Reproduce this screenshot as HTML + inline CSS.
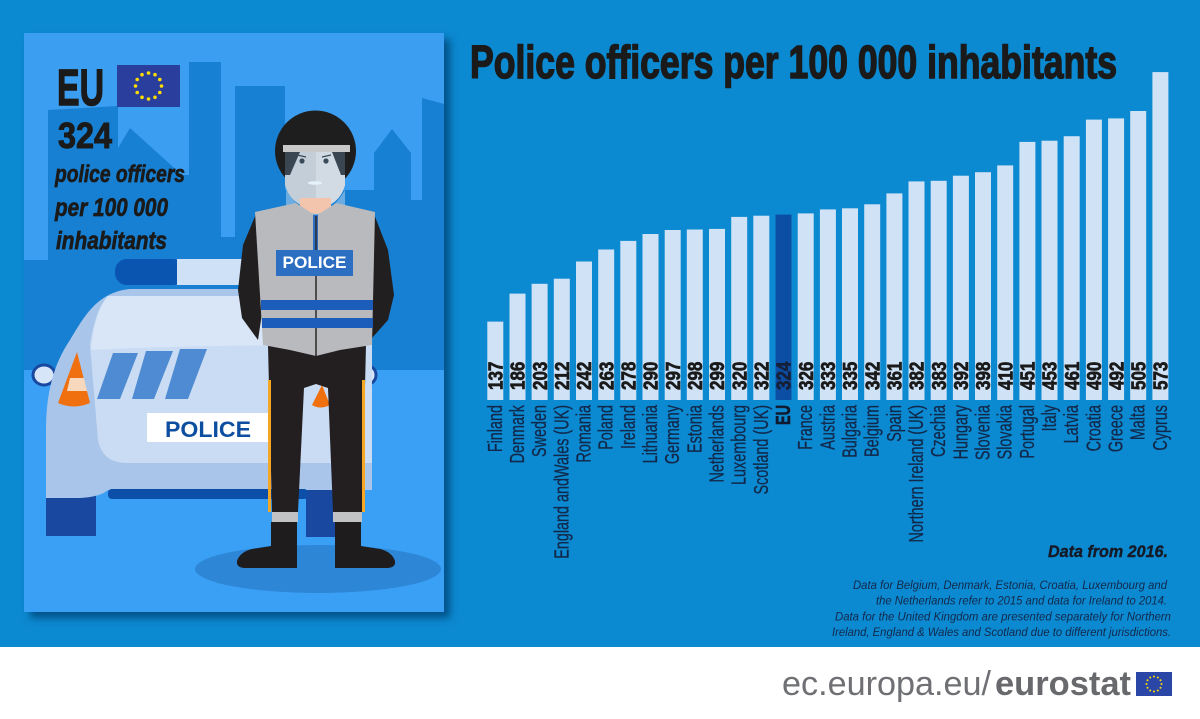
<!DOCTYPE html>
<html><head><meta charset="utf-8"><style>
html,body{margin:0;padding:0;background:#fff;}
svg{display:block;}
text{font-family:"Liberation Sans",sans-serif;}
</style></head><body>
<svg width="1200" height="719" viewBox="0 0 1200 719" xmlns="http://www.w3.org/2000/svg">
<defs>
<filter id="sh" x="-10%" y="-10%" width="125%" height="125%"><feDropShadow dx="6" dy="6" stdDeviation="4" flood-color="#03467c" flood-opacity="0.85"/></filter>
<clipPath id="pc"><rect x="24" y="33" width="420" height="579"/></clipPath>
</defs>
<rect x="0" y="0" width="1200" height="647" fill="#0b89d1"/>
<rect x="0" y="647" width="1200" height="72" fill="#ffffff"/>

<!-- LEFT PANEL -->
<rect x="24" y="33" width="420" height="579" fill="#3c9ef0" filter="url(#sh)"/>
<g clip-path="url(#pc)">
<rect x="24" y="33" width="420" height="579" fill="#3c9ef0"/>
<polygon fill="#1880d2" points="24,370 24,260 48,260 48,110 118,106 118,148 130,128 182,175 189,175 189,62 221,62 221,237 235,237 235,86 285,86 285,190 374,190 374,153 392,129 411,153 411,200 422,200 422,98 444,104 444,370"/>
<rect x="24" y="370" width="420" height="242" fill="#3aa0f6"/>

<!-- car -->
<ellipse cx="44" cy="375" rx="11" ry="10" fill="#d6e5f7" stroke="#1848a0" stroke-width="3"/>
<ellipse cx="368" cy="375" rx="8" ry="9" fill="#d6e5f7" stroke="#1848a0" stroke-width="3"/>
<rect x="46" y="462" width="50" height="74" fill="#1848a0"/>
<rect x="306" y="485" width="30" height="52" fill="#1848a0"/>
<path d="M46,498 L46,430 C46,390 55,362 70,340 C85,315 98,292 130,289 L372,289 L372,490 L300,490 L108,490 Q100,497 80,498 Z" fill="#a9c5ea"/>
<path d="M108,296 Q95,310 90,345 L98,440 Q102,462 125,463 L372,463 L372,296 Z" fill="#c9dcf3"/>
<path d="M108,296 Q95,310 91,350 Q200,344 372,346 L372,296 Z" fill="#d8e6f8"/>
<rect x="108" y="489" width="200" height="10" rx="4" fill="#0c4fa8"/>
<rect x="115" y="259" width="70" height="26" rx="12" fill="#0a55b0"/>
<rect x="177" y="259" width="75" height="26" fill="#cfe1f6"/>
<polygon points="113,353 138,353 120,399 97,399" fill="#4f8bd2"/>
<polygon points="146,351 173,351 154,399 132,399" fill="#4f8bd2"/>
<polygon points="180,349 207,349 188,399 165,399" fill="#4f8bd2"/>
<path d="M77,352 L90,403 Q74,410 58,403 Z" fill="#f07010"/>
<polygon points="70,378 84,378 87,391 67,391" fill="#f7d8bd"/>
<path d="M322,385 L330,405 Q320,410 312,405 Z" fill="#f07010"/>
<rect x="147" y="413" width="124" height="29" fill="#ffffff"/>
<text x="165" y="437" font-size="22" font-weight="bold" fill="#0d4ea0" textLength="86" lengthAdjust="spacingAndGlyphs">POLICE</text>

<!-- shadow -->
<ellipse cx="318" cy="569" rx="123" ry="24" fill="#2e86d6"/>

<!-- officer -->
<polygon points="256,214 243,245 238,290 242,318 258,340 264,300 264,230" fill="#221f20"/>
<polygon points="374,214 388,250 394,295 388,320 372,338 368,300 368,230" fill="#221f20"/>
<path d="M268,345 L272,512 L298,512 L304,388 L316,384 L328,388 L333,512 L362,512 L366,345 Z" fill="#231f20"/>
<rect x="268" y="380" width="3" height="132" fill="#f5a623"/>
<rect x="362" y="380" width="3" height="132" fill="#f5a623"/>
<rect x="272" y="512" width="26" height="10" fill="#c0c2c4"/>
<rect x="333" y="512" width="29" height="10" fill="#c0c2c4"/>
<path d="M271,522 L297,522 L297,568 L246,568 Q236,568 237,561 Q240,552 252,549 L271,546 Z" fill="#1e1c1d"/>
<path d="M335,522 L361,522 L361,546 L380,549 Q392,552 395,561 Q396,568 386,568 L335,568 Z" fill="#1e1c1d"/>
<circle cx="315.5" cy="151" r="40.5" fill="#1e1e1e"/>
<path d="M285,152 L345,152 L345,185 Q340,205 315,210 Q290,205 285,185 Z" fill="#c3ced9"/>
<path d="M316,152 L345,152 L345,185 Q340,205 316,210 Z" fill="#d2dbe4"/>
<path d="M285,152 L300,152 L290,175 L285,175 Z" fill="#3a4752"/>
<path d="M345,152 L332,152 L341,175 L345,175 Z" fill="#3a4752"/>
<rect x="283" y="145" width="67" height="7" fill="#c9c9c9"/>
<circle cx="302" cy="161" r="2.6" fill="#3a4a58"/>
<circle cx="326" cy="161" r="2.6" fill="#3a4a58"/>
<line x1="297" y1="155" x2="306" y2="157" stroke="#3a4a58" stroke-width="1.2"/>
<line x1="322" y1="157" x2="331" y2="155" stroke="#3a4a58" stroke-width="1.2"/>
<ellipse cx="315" cy="183" rx="7" ry="1.8" fill="#e6f3fb"/>
<rect x="300" y="198" width="31" height="16" fill="#f2c5ac"/>
<path d="M286,190 Q300,212 316,214 Q332,212 345,190 L345,205 Q330,218 316,218 Q300,218 286,205 Z" fill="#8fc0ea" opacity="0.7"/>
<polygon points="255,212 296,203 316,216 336,203 375,212 372,345 340,350 316,356 290,350 263,345" fill="#b8babd"/>
<rect x="313" y="215" width="5" height="36" fill="#2c6ec2"/>
<line x1="316" y1="216" x2="316" y2="356" stroke="#2a2a2a" stroke-width="1.5"/>
<rect x="276" y="250" width="77" height="26" fill="#2c6ec2"/>
<text x="314.5" y="268" font-size="17" font-weight="bold" fill="#ffffff" text-anchor="middle" textLength="64" lengthAdjust="spacingAndGlyphs">POLICE</text>
<rect x="261" y="300" width="112" height="10" fill="#1c5cba"/>
<rect x="262" y="318" width="111" height="10" fill="#1c5cba"/>

<!-- EU text -->
<g fill="#1a1a1a" stroke="#1a1a1a">
<text x="57" y="105" font-size="51" font-weight="bold" stroke-width="1.4" textLength="47" lengthAdjust="spacingAndGlyphs">EU</text>
<text x="58" y="148" font-size="36" font-weight="bold" stroke-width="1" textLength="54" lengthAdjust="spacingAndGlyphs">324</text>
<text x="55" y="182" font-size="24" font-weight="bold" font-style="italic" stroke-width="0.7" textLength="130" lengthAdjust="spacingAndGlyphs">police officers</text>
<text x="55" y="216" font-size="25" font-weight="bold" font-style="italic" stroke-width="0.7" textLength="113" lengthAdjust="spacingAndGlyphs">per 100 000</text>
<text x="56" y="249" font-size="25" font-weight="bold" font-style="italic" stroke-width="0.7" textLength="111" lengthAdjust="spacingAndGlyphs">inhabitants</text>
</g>
<rect x="117" y="65" width="63" height="42" fill="#2a3f9d"/>
<g fill="#ffdd00">
<circle cx="148.5" cy="73" r="1.8"/><circle cx="155" cy="74.7" r="1.8"/><circle cx="159.8" cy="79.5" r="1.8"/><circle cx="161.5" cy="86" r="1.8"/><circle cx="159.8" cy="92.5" r="1.8"/><circle cx="155" cy="97.3" r="1.8"/><circle cx="148.5" cy="99" r="1.8"/><circle cx="142" cy="97.3" r="1.8"/><circle cx="137.2" cy="92.5" r="1.8"/><circle cx="135.5" cy="86" r="1.8"/><circle cx="137.2" cy="79.5" r="1.8"/><circle cx="142" cy="74.7" r="1.8"/>
</g>
</g>

<!-- TITLE -->
<text x="470" y="78" font-size="46" font-weight="bold" fill="#1a1a1a" stroke="#1a1a1a" stroke-width="1.5" textLength="647" lengthAdjust="spacingAndGlyphs">Police officers per 100 000 inhabitants</text>

<!-- BARS -->
<g fill="#d0e2f5">
<rect x="487.3" y="321.6" width="16" height="78.4"/>
<rect x="509.5" y="293.6" width="16" height="106.4"/>
<rect x="531.6" y="283.8" width="16" height="116.2"/>
<rect x="553.8" y="278.7" width="16" height="121.3"/>
<rect x="576.0" y="261.5" width="16" height="138.5"/>
<rect x="598.2" y="249.5" width="16" height="150.5"/>
<rect x="620.3" y="240.9" width="16" height="159.1"/>
<rect x="642.5" y="234.0" width="16" height="166.0"/>
<rect x="664.7" y="230.0" width="16" height="170.0"/>
<rect x="686.8" y="229.5" width="16" height="170.5"/>
<rect x="709.0" y="228.9" width="16" height="171.1"/>
<rect x="731.2" y="216.9" width="16" height="183.1"/>
<rect x="753.3" y="215.7" width="16" height="184.3"/>
<rect x="775.5" y="214.6" width="16" height="185.4" fill="#0c4ea4"/>
<rect x="797.7" y="213.4" width="16" height="186.6"/>
<rect x="819.9" y="209.4" width="16" height="190.6"/>
<rect x="842.0" y="208.3" width="16" height="191.7"/>
<rect x="864.2" y="204.3" width="16" height="195.7"/>
<rect x="886.4" y="193.4" width="16" height="206.6"/>
<rect x="908.5" y="181.4" width="16" height="218.6"/>
<rect x="930.7" y="180.8" width="16" height="219.2"/>
<rect x="952.9" y="175.7" width="16" height="224.3"/>
<rect x="975.0" y="172.2" width="16" height="227.8"/>
<rect x="997.2" y="165.4" width="16" height="234.6"/>
<rect x="1019.4" y="141.9" width="16" height="258.1"/>
<rect x="1041.5" y="140.7" width="16" height="259.3"/>
<rect x="1063.7" y="136.2" width="16" height="263.8"/>
<rect x="1085.9" y="119.6" width="16" height="280.4"/>
<rect x="1108.1" y="118.4" width="16" height="281.6"/>
<rect x="1130.2" y="111.0" width="16" height="289.0"/>
<rect x="1152.4" y="72.1" width="16" height="327.9"/>
</g>

<!-- VALUES -->
<g font-size="20" font-weight="bold" fill="#1a1a1a" stroke="#1a1a1a" stroke-width="0.7">
<text transform="translate(502.5,390) rotate(-90) scale(0.85,1)">137</text>
<text transform="translate(524.7,390) rotate(-90) scale(0.85,1)">186</text>
<text transform="translate(546.8,390) rotate(-90) scale(0.85,1)">203</text>
<text transform="translate(569.0,390) rotate(-90) scale(0.85,1)">212</text>
<text transform="translate(591.2,390) rotate(-90) scale(0.85,1)">242</text>
<text transform="translate(613.4,390) rotate(-90) scale(0.85,1)">263</text>
<text transform="translate(635.5,390) rotate(-90) scale(0.85,1)">278</text>
<text transform="translate(657.7,390) rotate(-90) scale(0.85,1)">290</text>
<text transform="translate(679.9,390) rotate(-90) scale(0.85,1)">297</text>
<text transform="translate(702.0,390) rotate(-90) scale(0.85,1)">298</text>
<text transform="translate(724.2,390) rotate(-90) scale(0.85,1)">299</text>
<text transform="translate(746.4,390) rotate(-90) scale(0.85,1)">320</text>
<text transform="translate(768.5,390) rotate(-90) scale(0.85,1)">322</text>
<text transform="translate(790.7,390) rotate(-90) scale(0.85,1)" fill="#15213a" stroke="#15213a">324</text>
<text transform="translate(812.9,390) rotate(-90) scale(0.85,1)">326</text>
<text transform="translate(835.1,390) rotate(-90) scale(0.85,1)">333</text>
<text transform="translate(857.2,390) rotate(-90) scale(0.85,1)">335</text>
<text transform="translate(879.4,390) rotate(-90) scale(0.85,1)">342</text>
<text transform="translate(901.6,390) rotate(-90) scale(0.85,1)">361</text>
<text transform="translate(923.7,390) rotate(-90) scale(0.85,1)">382</text>
<text transform="translate(945.9,390) rotate(-90) scale(0.85,1)">383</text>
<text transform="translate(968.1,390) rotate(-90) scale(0.85,1)">392</text>
<text transform="translate(990.2,390) rotate(-90) scale(0.85,1)">398</text>
<text transform="translate(1012.4,390) rotate(-90) scale(0.85,1)">410</text>
<text transform="translate(1034.6,390) rotate(-90) scale(0.85,1)">451</text>
<text transform="translate(1056.7,390) rotate(-90) scale(0.85,1)">453</text>
<text transform="translate(1078.9,390) rotate(-90) scale(0.85,1)">461</text>
<text transform="translate(1101.1,390) rotate(-90) scale(0.85,1)">490</text>
<text transform="translate(1123.3,390) rotate(-90) scale(0.85,1)">492</text>
<text transform="translate(1145.4,390) rotate(-90) scale(0.85,1)">505</text>
<text transform="translate(1167.6,390) rotate(-90) scale(0.85,1)">573</text>
</g>

<!-- COUNTRY LABELS -->
<g font-size="20" fill="#12294a" stroke="#12294a" stroke-width="0.3" text-anchor="end">
<text transform="translate(501.8,405) rotate(-90) scale(0.72,1)">Finland</text>
<text transform="translate(524.0,405) rotate(-90) scale(0.72,1)">Denmark</text>
<text transform="translate(546.1,405) rotate(-90) scale(0.72,1)">Sweden</text>
<text transform="translate(568.3,405) rotate(-90) scale(0.72,1)">England andWales (UK)</text>
<text transform="translate(590.5,405) rotate(-90) scale(0.72,1)">Romania</text>
<text transform="translate(612.7,405) rotate(-90) scale(0.72,1)">Poland</text>
<text transform="translate(634.8,405) rotate(-90) scale(0.72,1)">Ireland</text>
<text transform="translate(657.0,405) rotate(-90) scale(0.72,1)">Lithuania</text>
<text transform="translate(679.2,405) rotate(-90) scale(0.72,1)">Germany</text>
<text transform="translate(701.3,405) rotate(-90) scale(0.72,1)">Estonia</text>
<text transform="translate(723.5,405) rotate(-90) scale(0.72,1)">Netherlands</text>
<text transform="translate(745.7,405) rotate(-90) scale(0.72,1)">Luxembourg</text>
<text transform="translate(767.8,405) rotate(-90) scale(0.72,1)">Scotland (UK)</text>
<text transform="translate(790.0,405) rotate(-90) scale(0.72,1)" font-weight="bold" fill="#111a2e" stroke="#111a2e" stroke-width="0.6">EU</text>
<text transform="translate(812.2,405) rotate(-90) scale(0.72,1)">France</text>
<text transform="translate(834.4,405) rotate(-90) scale(0.72,1)">Austria</text>
<text transform="translate(856.5,405) rotate(-90) scale(0.72,1)">Bulgaria</text>
<text transform="translate(878.7,405) rotate(-90) scale(0.72,1)">Belgium</text>
<text transform="translate(900.9,405) rotate(-90) scale(0.72,1)">Spain</text>
<text transform="translate(923.0,405) rotate(-90) scale(0.72,1)">Northern Ireland (UK)</text>
<text transform="translate(945.2,405) rotate(-90) scale(0.72,1)">Czechia</text>
<text transform="translate(967.4,405) rotate(-90) scale(0.72,1)">Hungary</text>
<text transform="translate(989.5,405) rotate(-90) scale(0.72,1)">Slovenia</text>
<text transform="translate(1011.7,405) rotate(-90) scale(0.72,1)">Slovakia</text>
<text transform="translate(1033.9,405) rotate(-90) scale(0.72,1)">Portugal</text>
<text transform="translate(1056.0,405) rotate(-90) scale(0.72,1)">Italy</text>
<text transform="translate(1078.2,405) rotate(-90) scale(0.72,1)">Latvia</text>
<text transform="translate(1100.4,405) rotate(-90) scale(0.72,1)">Croatia</text>
<text transform="translate(1122.6,405) rotate(-90) scale(0.72,1)">Greece</text>
<text transform="translate(1144.7,405) rotate(-90) scale(0.72,1)">Malta</text>
<text transform="translate(1166.9,405) rotate(-90) scale(0.72,1)">Cyprus</text>
</g>

<!-- NOTES -->
<text x="1048" y="557" font-size="17" font-weight="bold" font-style="italic" fill="#151a26" stroke="#151a26" stroke-width="0.4" textLength="120" lengthAdjust="spacingAndGlyphs">Data from 2016.</text>
<g font-size="12" font-style="italic" fill="#13294b">
<text x="853" y="589" textLength="314" lengthAdjust="spacingAndGlyphs">Data for Belgium, Denmark, Estonia, Croatia, Luxembourg and</text>
<text x="876" y="604.5" textLength="291" lengthAdjust="spacingAndGlyphs">the Netherlands refer to 2015 and data for Ireland to 2014.</text>
<text x="835" y="620.5" textLength="336" lengthAdjust="spacingAndGlyphs">Data for the United Kingdom are presented separately for Northern</text>
<text x="832" y="636" textLength="339" lengthAdjust="spacingAndGlyphs">Ireland, England &amp; Wales and Scotland due to different jurisdictions.</text>
</g>

<!-- FOOTER -->
<text x="782" y="695" font-size="34" fill="#6f7073" textLength="209" lengthAdjust="spacingAndGlyphs">ec.europa.eu/</text>
<text x="995" y="695" font-size="34" font-weight="bold" fill="#68696c" textLength="136" lengthAdjust="spacingAndGlyphs">eurostat</text>
<rect x="1136" y="672" width="36" height="24" fill="#2a47a8"/>
<g fill="#ffdd00">
<circle cx="1154" cy="676.5" r="1"/><circle cx="1157.8" cy="677.5" r="1"/><circle cx="1160.5" cy="680.3" r="1"/><circle cx="1161.5" cy="684" r="1"/><circle cx="1160.5" cy="687.7" r="1"/><circle cx="1157.8" cy="690.5" r="1"/><circle cx="1154" cy="691.5" r="1"/><circle cx="1150.2" cy="690.5" r="1"/><circle cx="1147.5" cy="687.7" r="1"/><circle cx="1146.5" cy="684" r="1"/><circle cx="1147.5" cy="680.3" r="1"/><circle cx="1150.2" cy="677.5" r="1"/>
</g>
</svg>
</body></html>
